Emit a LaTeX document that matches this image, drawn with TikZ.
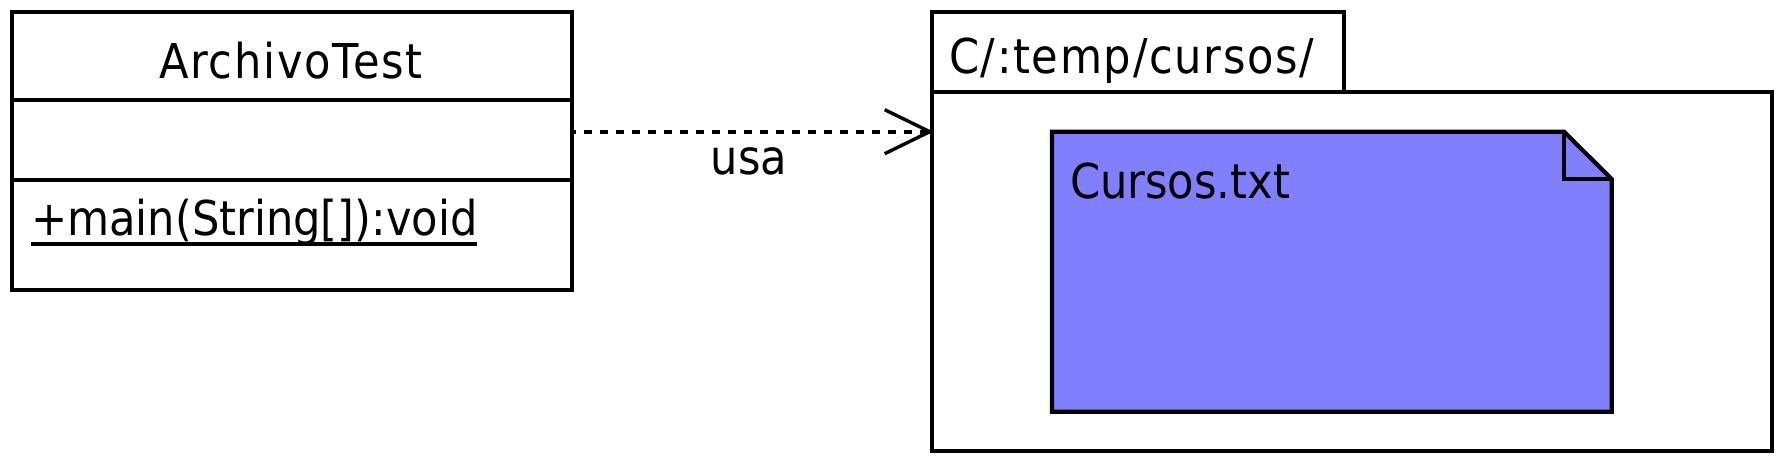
\documentclass[tikz,border=0pt]{standalone}
\usepackage{fontspec}
\setmainfont{DejaVu Sans}[FakeStretch=0.9]
\newfontfamily\widefont{DejaVu Sans}[FakeStretch=0.9,LetterSpace=3.5]
\usetikzlibrary{calc}
\definecolor{notefill}{HTML}{8080FF}
\begin{document}
\begin{tikzpicture}[x=1pt,y=-1pt,line width=4.2pt,
  txt/.style={font=\fontsize{48pt}{56pt}\selectfont,inner sep=0pt,outer sep=0pt},
  widetxt/.style={txt,font=\widefont\fontsize{48pt}{56pt}\selectfont},
  umlbox/.style={draw,inner sep=0pt,outer sep=0pt,anchor=north west},
  dep/.style={line width=4pt,dash pattern=on 8pt off 8pt,dash phase=4pt},
  arm/.style={line width=3.4pt}]
\useasboundingbox (0,0) rectangle (1780,460);
% class
\node[umlbox,minimum width=560pt,minimum height=277.7pt] (cls) at (12,12.3) {};
\draw (12,100) -- (572,100);
\draw (12,180) -- (572,180);
\node[widetxt,anchor=base] (ctitle) at (291,78) {ArchivoTest};
\node[txt,anchor=base west] (cmeth) at (31,235) {+main(String[]):void};
\draw[line width=3.5pt] ($(cmeth.base west)+(0,9)$) -- ($(cmeth.base east)+(0,9)$);
% package
\node[umlbox,minimum width=412pt,minimum height=79.4pt] (tab) at (931.7,12.3) {};
\node[umlbox,minimum width=840pt,minimum height=359.3pt] (pkg) at (931.7,91.7) {};
\node[widetxt,anchor=base west] (ptitle) at (949,74) {C/:temp/cursos/};
% note
\filldraw[fill=notefill] (1052,131.7) -- (1564,131.7) -- (1611.7,179) -- (1611.7,411.7) -- (1052,411.7) -- cycle;
\draw (1564,131.7) -- (1564,179) -- (1611.7,179);
\node[txt,anchor=base west] (note) at (1070,198) {Cursos.txt};
% dependency
\coordinate (dy) at (0,131.7);
\coordinate (tip) at ($(pkg.west |- dy)+(-2,0)$);
\draw[dep] (cls.east |- dy) -- (tip);
\draw[arm] ($(tip)+(-45,-22)$) -- (tip) -- ($(tip)+(-45,22)$);
\node[txt,anchor=base] (usa) at (749,174) {usa};
\end{tikzpicture}
\end{document}
